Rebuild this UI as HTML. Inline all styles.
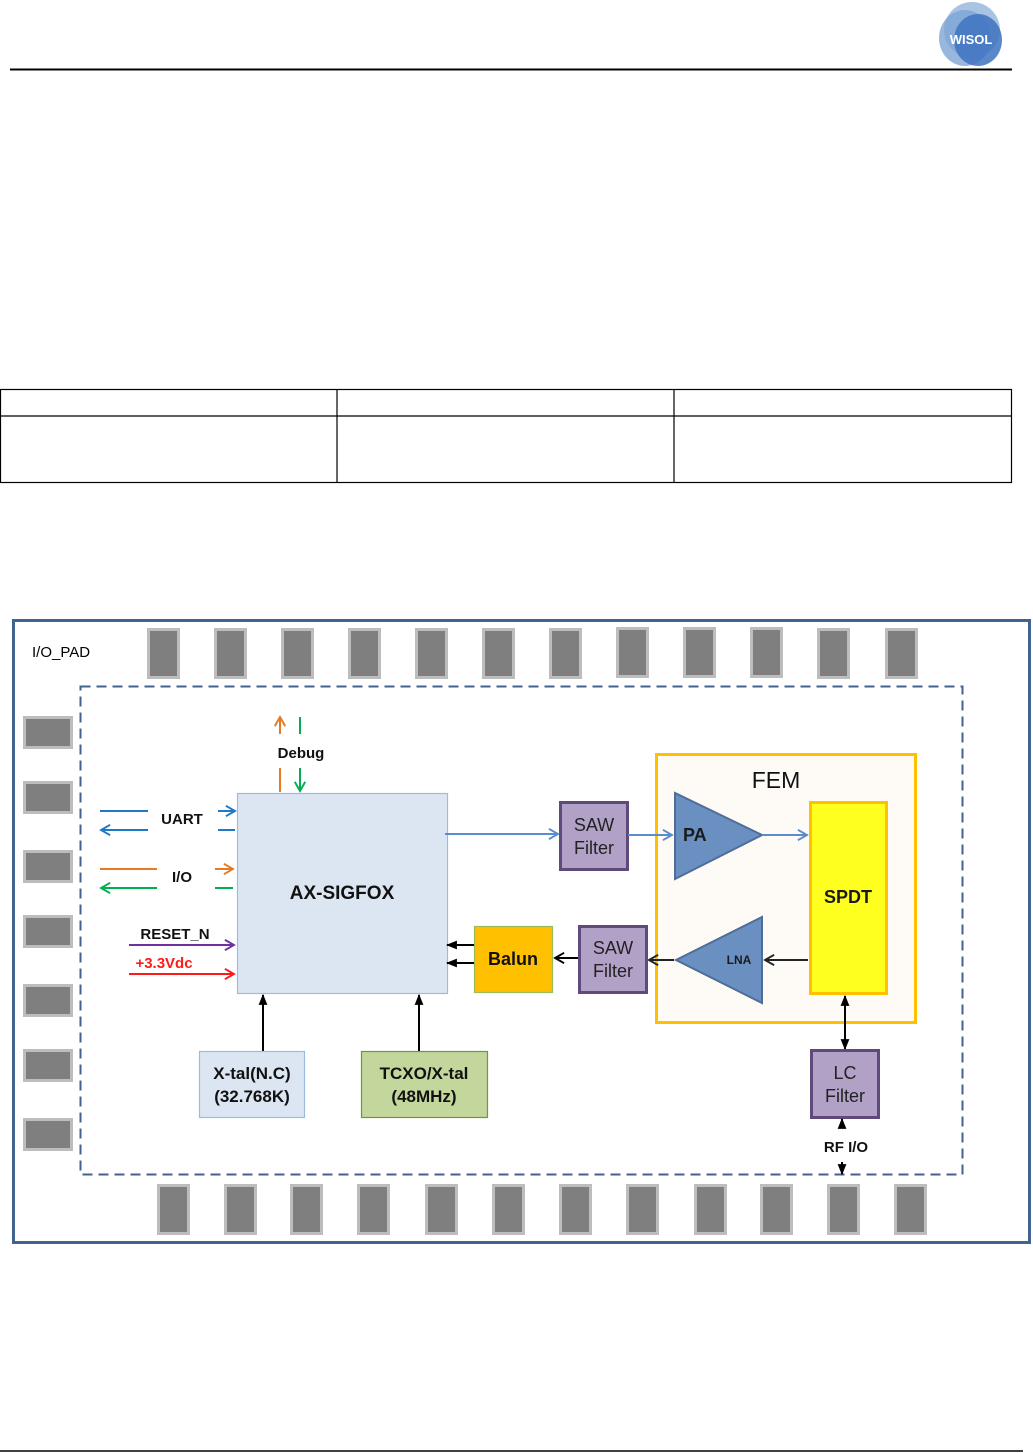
<!DOCTYPE html>
<html><head><meta charset="utf-8"><style>
html,body{margin:0;padding:0;background:#fff;}
svg{display:block;}
text{font-family:"Liberation Sans","DejaVu Sans",sans-serif;}
</style></head><body>
<svg width="1033" height="1453" viewBox="0 0 1033 1453" xmlns="http://www.w3.org/2000/svg">
<defs>
<marker id="ob" viewBox="0 0 10 10" refX="9" refY="5" markerWidth="13" markerHeight="13" orient="auto-start-reverse" markerUnits="userSpaceOnUse"><path d="M2 1 L9 5 L2 9" fill="none" stroke-width="1.5" stroke="context-stroke"/></marker>
<marker id="ab" viewBox="0 0 10 10" refX="9" refY="5" markerWidth="11" markerHeight="11" orient="auto-start-reverse" markerUnits="userSpaceOnUse"><path d="M0 1 L10 5 L0 9 Z" fill="#000"/></marker>
</defs>
<!-- logo -->
<g>
<ellipse cx="972" cy="30" rx="28" ry="28" fill="#a9c4e3"/>
<ellipse cx="965" cy="38" rx="26" ry="28" fill="#7ea5d6" opacity="0.8"/>
<ellipse cx="978" cy="40" rx="24" ry="26" fill="#3e73c0" opacity="0.85"/>
</g>
<text x="971" y="44" font-size="13" fill="#fff" text-anchor="middle" font-weight="bold">WISOL</text>
<line x1="10" y1="69.5" x2="1012" y2="69.5" stroke="#000" stroke-width="2"/>
<!-- table -->
<g stroke="#000" stroke-width="1.2" fill="none">
<rect x="0.5" y="389.5" width="1011" height="93"/>
<line x1="0" y1="416" x2="1011" y2="416"/>
<line x1="337" y1="389" x2="337" y2="483"/>
<line x1="674" y1="389" x2="674" y2="483"/>
</g>
<line x1="0" y1="1451" x2="1023" y2="1451" stroke="#000" stroke-width="1.5"/>
<!-- outer box -->
<rect x="13.5" y="620.5" width="1016" height="622" fill="none" stroke="#41638f" stroke-width="3"/>
<rect x="80.5" y="686.5" width="882" height="488" fill="none" stroke="#41638f" stroke-width="2" stroke-dasharray="10,6"/>
<text x="32" y="657" font-size="15">I/O_PAD</text>
<g fill="#7f7f7f" stroke="#bdbdbd" stroke-width="3">
<rect x="148.5" y="629.5" width="30" height="48"/><rect x="215.5" y="629.5" width="30" height="48"/><rect x="282.5" y="629.5" width="30" height="48"/><rect x="349.5" y="629.5" width="30" height="48"/><rect x="416.5" y="629.5" width="30" height="48"/><rect x="483.5" y="629.5" width="30" height="48"/><rect x="550.5" y="629.5" width="30" height="48"/><rect x="617.5" y="628.5" width="30" height="48"/><rect x="684.5" y="628.5" width="30" height="48"/><rect x="751.5" y="628.5" width="30" height="48"/><rect x="818.5" y="629.5" width="30" height="48"/><rect x="886.5" y="629.5" width="30" height="48"/>
<rect x="24.5" y="717.5" width="47" height="30"/><rect x="24.5" y="782.5" width="47" height="30"/><rect x="24.5" y="851.5" width="47" height="30"/><rect x="24.5" y="916.5" width="47" height="30"/><rect x="24.5" y="985.5" width="47" height="30"/><rect x="24.5" y="1050.5" width="47" height="30"/><rect x="24.5" y="1119.5" width="47" height="30"/>
<rect x="158.5" y="1185.5" width="30" height="48"/><rect x="225.5" y="1185.5" width="30" height="48"/><rect x="291.5" y="1185.5" width="30" height="48"/><rect x="358.5" y="1185.5" width="30" height="48"/><rect x="426.5" y="1185.5" width="30" height="48"/><rect x="493.5" y="1185.5" width="30" height="48"/><rect x="560.5" y="1185.5" width="30" height="48"/><rect x="627.5" y="1185.5" width="30" height="48"/><rect x="695.5" y="1185.5" width="30" height="48"/><rect x="761.5" y="1185.5" width="30" height="48"/><rect x="828.5" y="1185.5" width="30" height="48"/><rect x="895.5" y="1185.5" width="30" height="48"/>
</g>
<rect x="237.5" y="793.5" width="210" height="200" fill="#dce6f2" stroke="#9dbbe0" stroke-width="1.2"/>
<text x="342" y="899" font-size="19" font-weight="bold" text-anchor="middle" fill="#111">AX-SIGFOX</text>
<line x1="280" y1="734" x2="280" y2="717" stroke="#e57a23" stroke-width="2" marker-end="url(#ob)"/>
<line x1="300" y1="717" x2="300" y2="734" stroke="#00b050" stroke-width="2"/>
<text x="301" y="758" font-size="15" font-weight="bold" text-anchor="middle" fill="#111">Debug</text>
<line x1="280" y1="768" x2="280" y2="792" stroke="#e57a23" stroke-width="2"/>
<line x1="300" y1="768" x2="300" y2="791" stroke="#00b050" stroke-width="2" marker-end="url(#ob)"/>
<line x1="100" y1="811" x2="148" y2="811" stroke="#1f78c8" stroke-width="2"/>
<line x1="148" y1="830" x2="101" y2="830" stroke="#1f78c8" stroke-width="2" marker-end="url(#ob)"/>
<text x="182" y="824" font-size="15" font-weight="bold" text-anchor="middle" fill="#111">UART</text>
<line x1="218" y1="811" x2="235" y2="811" stroke="#1f78c8" stroke-width="2" marker-end="url(#ob)"/>
<line x1="218" y1="830" x2="235" y2="830" stroke="#1f78c8" stroke-width="2"/>
<line x1="100" y1="869" x2="157" y2="869" stroke="#e57a23" stroke-width="2"/>
<line x1="157" y1="888" x2="101" y2="888" stroke="#00b050" stroke-width="2" marker-end="url(#ob)"/>
<text x="182" y="882" font-size="15" font-weight="bold" text-anchor="middle" fill="#111">I/O</text>
<line x1="215" y1="869" x2="233" y2="869" stroke="#e57a23" stroke-width="2" marker-end="url(#ob)"/>
<line x1="215" y1="888" x2="233" y2="888" stroke="#00b050" stroke-width="2"/>
<text x="175" y="939" font-size="15" font-weight="bold" text-anchor="middle" fill="#111">RESET_N</text>
<line x1="129" y1="945" x2="234" y2="945" stroke="#7030a0" stroke-width="2" marker-end="url(#ob)"/>
<text x="164" y="968" font-size="15" font-weight="bold" text-anchor="middle" fill="#ff1a1a">+3.3Vdc</text>
<line x1="129" y1="974" x2="234" y2="974" stroke="#ff1a1a" stroke-width="2" marker-end="url(#ob)"/>
<line x1="263" y1="1051" x2="263" y2="995" stroke="#000" stroke-width="2" marker-end="url(#ab)"/>
<line x1="419" y1="1051" x2="419" y2="995" stroke="#000" stroke-width="2" marker-end="url(#ab)"/>
<rect x="199.5" y="1051.5" width="105" height="66" fill="#dce6f2" stroke="#9dbbe0" stroke-width="1.2"/>
<text x="252" y="1079" font-size="17" font-weight="bold" text-anchor="middle" fill="#111">X-tal(N.C)</text>
<text x="252" y="1102" font-size="17" font-weight="bold" text-anchor="middle" fill="#111">(32.768K)</text>
<rect x="361.5" y="1051.5" width="126" height="66" fill="#c3d69b" stroke="#77933c" stroke-width="1.2"/>
<text x="424" y="1079" font-size="17" font-weight="bold" text-anchor="middle" fill="#111">TCXO/X-tal</text>
<text x="424" y="1102" font-size="17" font-weight="bold" text-anchor="middle" fill="#111">(48MHz)</text>
<line x1="445" y1="834" x2="558" y2="834" stroke="#5b8ccc" stroke-width="2" marker-end="url(#ob)"/>
<rect x="560.5" y="802.5" width="67" height="67" fill="#b2a1c7" stroke="#604a7b" stroke-width="3"/>
<text x="594" y="831" font-size="18" text-anchor="middle" fill="#222">SAW</text>
<text x="594" y="854" font-size="18" text-anchor="middle" fill="#222">Filter</text>
<rect x="656.5" y="754.5" width="259" height="268" fill="#fefaf6" stroke="#ffc000" stroke-width="3"/>
<text x="776" y="788" font-size="23" text-anchor="middle" fill="#111">FEM</text>
<line x1="628" y1="835" x2="672" y2="835" stroke="#5b8ccc" stroke-width="2" marker-end="url(#ob)"/>
<polygon points="675,793 675,879 762,835" fill="#6a90c2" stroke="#4f6d99" stroke-width="2"/>
<text x="683" y="841" font-size="18" font-weight="bold" fill="#1a1a1a">PA</text>
<line x1="762" y1="835" x2="807" y2="835" stroke="#5b8ccc" stroke-width="2" marker-end="url(#ob)"/>
<rect x="810.5" y="802.5" width="76" height="191" fill="#ffff1f" stroke="#ffc000" stroke-width="3"/>
<text x="848" y="903" font-size="18" font-weight="bold" text-anchor="middle" fill="#1a1a1a">SPDT</text>
<line x1="808" y1="960" x2="765" y2="960" stroke="#222" stroke-width="2" marker-end="url(#ob)"/>
<polygon points="676,960 762,917 762,1003" fill="#6a90c2" stroke="#4f6d99" stroke-width="2"/>
<text x="739" y="964" font-size="12" font-weight="bold" text-anchor="middle" fill="#1a1a1a">LNA</text>
<line x1="674" y1="960" x2="649" y2="960" stroke="#222" stroke-width="2" marker-end="url(#ob)"/>
<rect x="579.5" y="926.5" width="67" height="66" fill="#b2a1c7" stroke="#604a7b" stroke-width="3"/>
<text x="613" y="954" font-size="18" text-anchor="middle" fill="#222">SAW</text>
<text x="613" y="977" font-size="18" text-anchor="middle" fill="#222">Filter</text>
<line x1="578" y1="958" x2="555" y2="958" stroke="#000" stroke-width="2" marker-end="url(#ob)"/>
<rect x="474.5" y="926.5" width="78" height="66" fill="#ffc000" stroke="#9bbb59" stroke-width="1.2"/>
<text x="513" y="965" font-size="18" font-weight="bold" text-anchor="middle" fill="#111">Balun</text>
<line x1="474" y1="945" x2="447" y2="945" stroke="#000" stroke-width="2" marker-end="url(#ab)"/>
<line x1="474" y1="963" x2="447" y2="963" stroke="#000" stroke-width="2" marker-end="url(#ab)"/>
<line x1="845" y1="996" x2="845" y2="1049" stroke="#000" stroke-width="2" marker-start="url(#ab)" marker-end="url(#ab)"/>
<rect x="811.5" y="1050.5" width="67" height="67" fill="#b2a1c7" stroke="#604a7b" stroke-width="3"/>
<text x="845" y="1079" font-size="18" text-anchor="middle" fill="#222">LC</text>
<text x="845" y="1102" font-size="18" text-anchor="middle" fill="#222">Filter</text>
<line x1="842" y1="1128" x2="842" y2="1119" stroke="#000" stroke-width="2" marker-end="url(#ab)"/>
<text x="846" y="1152" font-size="15" font-weight="bold" text-anchor="middle" fill="#111">RF I/O</text>
<line x1="842" y1="1162" x2="842" y2="1174" stroke="#000" stroke-width="2" marker-end="url(#ab)"/>
</svg>
</body></html>
